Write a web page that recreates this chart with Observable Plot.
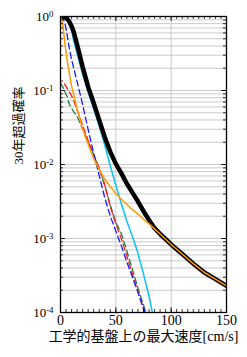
<!DOCTYPE html>
<html><head><meta charset="utf-8">
<script src="https://cdn.jsdelivr.net/npm/d3@7"></script>
<script src="https://cdn.jsdelivr.net/npm/@observablehq/plot@0.6"></script>
<style>
html,body{margin:0;padding:0;background:#fff}
svg text{font-family:"Liberation Serif","Noto Sans CJK JP",serif !important}
</style>
</head><body><div id="chart"></div>
<script>
// x: peak velocity on engineering bedrock [cm/s]
const speeds = [0,2,4,6,8,10,12,15,20,25,30,35,40,45,50,55,60,65,70,75,80,85,90,100,110,120,130,140,150];
// 30-year exceedance probabilities
const pBlack  = [1.0,0.993,0.973,0.933,0.851,0.741,0.617,0.417,0.209,0.112,0.0676,0.0398,0.0234,0.0148,0.0102,0.00759,0.0055,0.00417,0.00316,0.00234,0.00178,0.00138,0.00115,0.00083,0.000617,0.000457,0.000347,0.000282,0.000229];
const pOrange = [1.0,0.794,0.427,0.257,0.170,0.115,0.0871,0.0562,0.0302,0.0186,0.0120,0.00851,0.00631,0.00501,0.00407,0.00339,0.00288,0.00245,0.00214,0.00182,0.00158,0.00135,0.00115,0.00083,0.000617,0.000457,0.000347,0.000282,0.000229];
const pCyan   = [1.0,0.989,0.955,0.891,0.794,0.661,0.468,0.316,0.166,0.0955,0.0562,0.0331,0.0182,0.00955,0.00525,0.00295,0.0017,0.00107,0.00063,0.000331,0.000166,0.000071,null,null,null,null,null,null,null];
const pBlue   = [1.0,0.955,0.813,0.562,0.372,0.263,0.200,0.132,0.0646,0.0295,0.0141,0.00708,0.00355,0.0020,0.00126,0.000794,0.000479,0.000302,0.000186,0.000115,0.000071,null,null,null,null,null,null,null,null];
const pRed    = [0.136,0.133,0.120,0.107,0.0955,0.0851,0.0724,0.055,0.0339,0.0209,0.0135,0.00891,0.00525,0.00269,0.00158,0.0010,0.000575,0.000331,0.000191,0.00011,0.000063,null,null,null,null,null,null,null,null];
const pGreen  = [0.126,0.112,0.0955,0.0832,0.0646,0.0575,0.0513,0.0447,0.0302,0.0204,0.0135,0.00871,0.00525,0.00282,0.00166,0.00117,0.000676,0.00038,0.000214,0.000126,0.000074,null,null,null,null,null,null,null,null];

const xTicks = [0,50,100,150];
const yTicks = [1,0.1,0.01,0.001,0.0001];
const yTickLabels = ["10^0","10^-1","10^-2","10^-3","10^-4"];
const xLabel = "工学的基盤上の最大速度[cm/s]";
const yLabel = "30年超過確率";

const yMinor = [];
for (const e of [-4,-3,-2,-1]) for (let m = 1; m <= 9; m++) yMinor.push(+(m * Math.pow(10, e)).toPrecision(3));
yMinor.push(1);
const xMinor = d3.range(0, 151, 5);

const W = 247, H = 357, mL = 60, mR = 21, mT = 16, mB = 45;
const FW = W - mL - mR, FH = H - mT - mB;

const table = p => speeds.map((x, i) => ({x, p: p[i]}));
const font = '"Liberation Serif", "Noto Sans CJK JP", serif';
const dash = "6,3.5";

const chart = Plot.plot({
  width: W, height: H,
  marginLeft: mL, marginRight: mR, marginTop: mT, marginBottom: mB,
  style: {fontFamily: font, background: "#fff", color: "#000", overflow: "visible"},
  x: {domain: [0, 150]},
  y: {type: "log", domain: [1e-4, 1]},
  marks: [
    Plot.ruleY(yMinor, {y: d => d, stroke: "#c4c4c4", strokeWidth: 0.9}),
    Plot.ruleX([50, 100], {x: d => d, stroke: "#c4c4c4", strokeWidth: 0.9}),
    Plot.line(table(pGreen), {x: "x", y: "p", stroke: "#1e7d3c", strokeWidth: 1.3, strokeDasharray: dash, clip: true}),
    Plot.line(table(pRed), {x: "x", y: "p", stroke: "#ff1a1a", strokeWidth: 1.3, strokeDasharray: dash, strokeDashoffset: 4, clip: true}),
    Plot.line(table(pBlue), {x: "x", y: "p", stroke: "#1a1aff", strokeWidth: 1.3, strokeDasharray: dash, clip: true}),
    Plot.line(table(pCyan), {x: "x", y: "p", stroke: "#19c3f0", strokeWidth: 1.6, clip: true}),
    Plot.line(table(pBlack), {x: "x", y: "p", stroke: "#000", strokeWidth: 4.5, clip: true}),
    Plot.line(table(pOrange), {x: "x", y: "p", stroke: "#ff9a00", strokeWidth: 1.5, clip: true}),
    // inward tick marks on all four sides
    Plot.tickY(yMinor, {y: d => d, stroke: "#000", strokeWidth: 0.8, insetRight: FW - 3}),
    Plot.tickY(yMinor, {y: d => d, stroke: "#000", strokeWidth: 0.8, insetLeft: FW - 3}),
    Plot.tickY(yTicks, {y: d => d, stroke: "#000", strokeWidth: 0.8, insetRight: FW - 5}),
    Plot.tickY(yTicks, {y: d => d, stroke: "#000", strokeWidth: 0.8, insetLeft: FW - 5}),
    Plot.tickX(xMinor, {x: d => d, stroke: "#000", strokeWidth: 0.8, insetBottom: FH - 3}),
    Plot.tickX(xMinor, {x: d => d, stroke: "#000", strokeWidth: 0.8, insetTop: FH - 3}),
    Plot.tickX(xTicks, {x: d => d, stroke: "#000", strokeWidth: 0.8, insetBottom: FH - 5}),
    Plot.tickX(xTicks, {x: d => d, stroke: "#000", strokeWidth: 0.8, insetTop: FH - 5}),
    Plot.frame({stroke: "#000", strokeWidth: 1.3}),
    Plot.axisX({ticks: xTicks, tickSize: 0, tickPadding: 3, fontSize: 14, label: null, tickFormat: d => String(d)}),
    Plot.axisY({ticks: yTicks, tickSize: 0, tickPadding: 7, fontSize: 13, label: null, tickFormat: (d) => yTickLabels[yTicks.indexOf(d)]}),
    Plot.text([xLabel], {text: d => d, frameAnchor: "bottom", dy: 28, fontSize: 14, fill: "#000"}),
    Plot.text([yLabel], {text: d => d, frameAnchor: "left", dx: -42, rotate: -90, fontSize: 13, fill: "#000"})
  ]
});

d3.select(chart).selectAll('g[aria-label="y-axis tick label"] text').each(function() {
  const t = this.textContent;
  const parts = t.split("^");
  if (parts.length !== 2) return;
  const s = d3.select(this);
  s.text(parts[0]);
  s.append("tspan").attr("dy", "-0.45em").attr("font-size", "0.68em").text(parts[1]);
});

document.getElementById("chart").appendChild(chart);
</script>
</body></html>
